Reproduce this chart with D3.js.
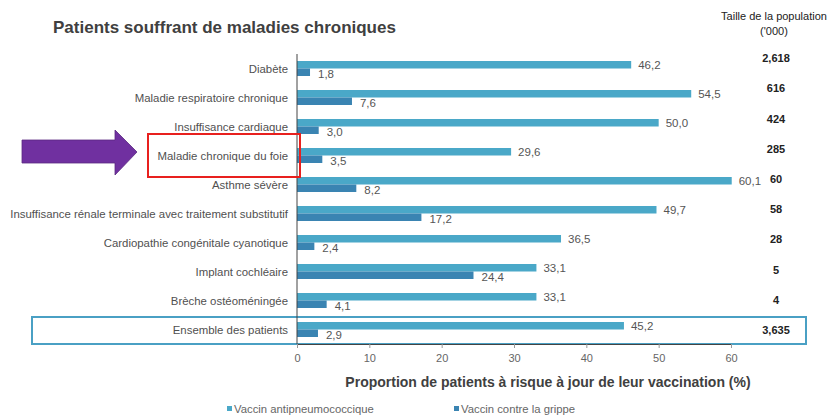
<!DOCTYPE html>
<html>
<head>
<meta charset="utf-8">
<script src="https://cdn.jsdelivr.net/npm/d3@7"></script>
<style>
  body { margin: 0; background: #fff; }
  text { font-family: "Liberation Sans", Arial, sans-serif; }
</style>
</head>
<body>
<div id="chart"></div>
<script>
// categories, top to bottom
const categories = [
    "Diabète",
    "Maladie respiratoire chronique",
    "Insuffisance cardiaque",
    "Maladie chronique du foie",
    "Asthme sévère",
    "Insuffisance rénale terminale avec traitement substitutif",
    "Cardiopathie congénitale cyanotique",
    "Implant cochléaire",
    "Brèche ostéoméningée",
    "Ensemble des patients"
];
const pneumo = [46.2, 54.5, 50.0, 29.6, 60.1, 49.7, 36.5, 33.1, 33.1, 45.2];
const grippe = [1.8, 7.6, 3.0, 3.5, 8.2, 17.2, 2.4, 24.4, 4.1, 2.9];
const population = ["2,618", "616", "424", "285", "60", "58", "28", "5", "4", "3,635"];
const xTicks = [0, 10, 20, 30, 40, 50, 60];
const seriesNames = ["Vaccin antipneumococcique", "Vaccin contre la grippe"];

const W = 833, H = 416;
const colPneumo = "#4aa8c8", colGrippe = "#3a84b2";
const fmt = function(v){ return d3.format(".1f")(v).replace(".", ","); };

const svg = d3.select("#chart").append("svg")
    .attr("width", W).attr("height", H);

// scales
const x = d3.scaleLinear().domain([0, 60]).range([297, 731]);
const y = d3.scaleBand().domain(categories).range([54, 344]);
const yPop = d3.scaleBand().domain(categories).range([43, 345]);
const barH = 7.5;

// title
svg.append("text").attr("x", 53).attr("y", 33)
    .attr("font-size", 17).attr("font-weight", "bold").attr("fill", "#404040")
    .text("Patients souffrant de maladies chroniques");

// population header
svg.append("text").attr("x", 774).attr("y", 20).attr("text-anchor", "middle")
    .attr("font-size", 11).attr("fill", "#222").text("Taille de la population");
svg.append("text").attr("x", 774).attr("y", 35).attr("text-anchor", "middle")
    .attr("font-size", 11).attr("fill", "#222").text("('000)");

// highlight box round the total row
svg.append("rect").attr("x", 32).attr("y", 317).attr("width", 774).attr("height", 27)
    .attr("fill", "none").attr("stroke", "#4aa0c4").attr("stroke-width", 2);

const rows = svg.selectAll(".row").data(categories).enter()
    .append("g").attr("class", "row");

// category labels
rows.append("text")
    .attr("x", 288).attr("y", function(d){ return y(d) + y.bandwidth()/2 + 4; })
    .attr("text-anchor", "end").attr("font-size", 11.4).attr("fill", "#505050")
    .text(function(d){ return d; });

// pneumo bars
rows.append("rect")
    .attr("x", x(0))
    .attr("y", function(d){ return y(d) + y.bandwidth()/2 - barH; })
    .attr("width", function(d, i){ return x(pneumo[i]) - x(0); })
    .attr("height", barH).attr("fill", colPneumo);

// grippe bars
rows.append("rect")
    .attr("x", x(0))
    .attr("y", function(d){ return y(d) + y.bandwidth()/2; })
    .attr("width", function(d, i){ return x(grippe[i]) - x(0); })
    .attr("height", barH).attr("fill", colGrippe);

// value labels
rows.append("text")
    .attr("x", function(d, i){ return x(pneumo[i]) + 7; })
    .attr("y", function(d){ return y(d) + y.bandwidth()/2 - barH/2 + 4; })
    .attr("font-size", 11.5).attr("fill", "#555")
    .text(function(d, i){ return fmt(pneumo[i]); });
rows.append("text")
    .attr("x", function(d, i){ return x(grippe[i]) + 8; })
    .attr("y", function(d){ return y(d) + y.bandwidth()/2 + barH/2 + 5.5; })
    .attr("font-size", 11.5).attr("fill", "#555")
    .text(function(d, i){ return fmt(grippe[i]); });

// population values
rows.append("text")
    .attr("x", 776)
    .attr("y", function(d){ return yPop(d) + yPop.bandwidth()/2 + 4; })
    .attr("text-anchor", "middle").attr("font-size", 11).attr("font-weight", "bold")
    .attr("fill", "#222")
    .text(function(d, i){ return population[i]; });

// x axis
const xAxis = svg.append("g").attr("transform", "translate(0,344)")
    .call(d3.axisBottom(x).tickValues(xTicks).tickSize(4).tickPadding(6));
xAxis.select(".domain").attr("stroke", "#444");
xAxis.selectAll(".tick line").attr("stroke", "#999");
xAxis.selectAll(".tick text").attr("font-size", 11).attr("fill", "#666")
    .attr("font-family", "Liberation Sans, Arial, sans-serif");

// y axis line
svg.append("line").attr("x1", x(0)).attr("x2", x(0)).attr("y1", 54).attr("y2", 344)
    .attr("stroke", "#444");

// axis title
svg.append("text").attr("x", 548).attr("y", 387).attr("text-anchor", "middle")
    .attr("font-size", 14).attr("font-weight", "bold").attr("fill", "#404040")
    .text("Proportion de patients à risque à jour de leur vaccination (%)");

// legend
const legX = [227, 454];
const leg = svg.selectAll(".leg").data(seriesNames).enter().append("g").attr("class", "leg")
    .attr("transform", function(d, i){ return "translate(" + legX[i] + ",406)"; });
leg.append("rect").attr("width", 5).attr("height", 5)
    .attr("fill", function(d, i){ return [colPneumo, colGrippe][i]; });
leg.append("text").attr("x", 7).attr("y", 6.5).attr("font-size", 11.3).attr("fill", "#666")
    .text(function(d){ return d; });

// red box and purple arrow
svg.append("rect").attr("x", 148).attr("y", 134).attr("width", 152).attr("height", 43)
    .attr("fill", "none").attr("stroke", "#e8201e").attr("stroke-width", 2);
svg.append("path")
    .attr("d", "M22,140 L115,140 L115,130 L137,152 L115,175 L115,163 L22,163 Z")
    .attr("fill", "#7030a0").attr("stroke", "#5a2a80").attr("stroke-width", 0.8);
</script>
</body>
</html>
